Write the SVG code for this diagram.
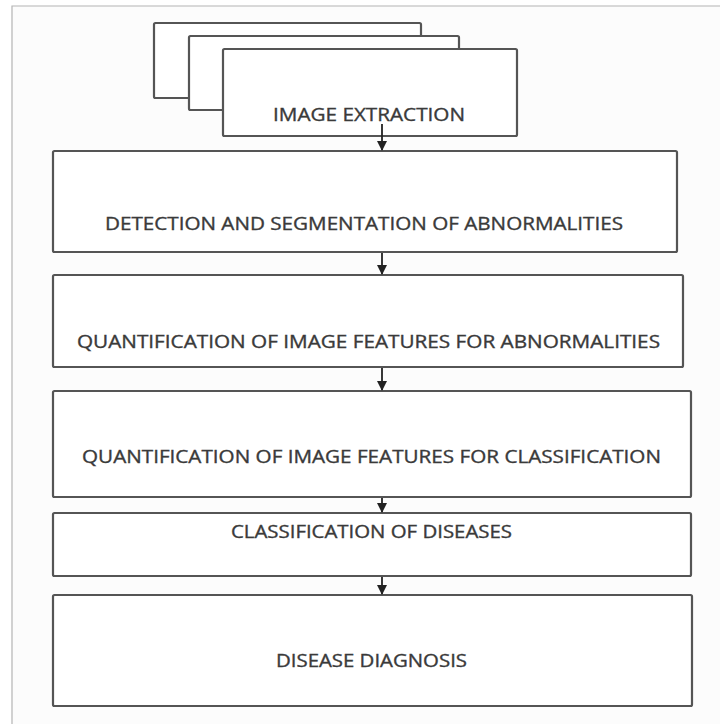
<svg xmlns="http://www.w3.org/2000/svg" width="720" height="724" viewBox="0 0 720 724">
  <style>
    .box { fill: #ffffff; stroke: #555555; stroke-width: 2.2; }
    .lbl { font-family: "Open Sans", "Liberation Sans", sans-serif; font-size: 18px; fill: #3a3a3a; stroke: #3a3a3a; stroke-width: 0.35; text-anchor: middle; }
    .conn { stroke: #222222; stroke-width: 1.8; fill: none; }
    .frame { stroke: #b4b4b4; stroke-width: 1.2; fill: none; }
  </style>
  <defs>
    <marker id="arrow" viewBox="0 0 10 10" refX="9" refY="5" markerWidth="10" markerHeight="10" markerUnits="userSpaceOnUse" orient="auto">
      <path d="M0,0 L10,5 L0,10 Z" fill="#222222"/>
    </marker>
  </defs>

  <!-- page background and frame edges -->
  <rect x="0" y="0" width="720" height="724" fill="#ffffff"/>
  <rect x="12" y="6" width="708" height="718" fill="#fcfcfc"/>
  <path class="frame" d="M12,724 V6 H720"/>

  <!-- stacked image cards -->
  <g id="image-extraction">
    <rect class="box" x="154" y="23" width="267" height="75" rx="1.5"/>
    <rect class="box" x="189" y="36" width="270" height="74" rx="1.5"/>
    <rect class="box" x="223" y="49" width="294" height="87" rx="1.5"/>
    <text class="lbl" x="369" y="121" textLength="192" lengthAdjust="spacingAndGlyphs">IMAGE EXTRACTION</text>
  </g>

  <g id="detection">
    <rect class="box" x="53" y="151" width="624" height="101" rx="1.5"/>
    <text class="lbl" x="364" y="230" textLength="518" lengthAdjust="spacingAndGlyphs">DETECTION AND SEGMENTATION OF ABNORMALITIES</text>
  </g>

  <g id="quant-abnormalities">
    <rect class="box" x="53" y="275" width="630" height="92" rx="1.5"/>
    <text class="lbl" x="368.5" y="348" textLength="583" lengthAdjust="spacingAndGlyphs">QUANTIFICATION OF IMAGE FEATURES FOR ABNORMALITIES</text>
  </g>

  <g id="quant-classification">
    <rect class="box" x="53" y="391" width="638" height="106" rx="1.5"/>
    <text class="lbl" x="371.5" y="463" textLength="579" lengthAdjust="spacingAndGlyphs">QUANTIFICATION OF IMAGE FEATURES FOR CLASSIFICATION</text>
  </g>

  <g id="classification">
    <rect class="box" x="53" y="513" width="638" height="63" rx="1.5"/>
    <text class="lbl" x="371.5" y="538" textLength="281" lengthAdjust="spacingAndGlyphs">CLASSIFICATION OF DISEASES</text>
  </g>

  <g id="diagnosis">
    <rect class="box" x="53" y="595" width="639" height="111" rx="1.5"/>
    <text class="lbl" x="371.5" y="667" textLength="191" lengthAdjust="spacingAndGlyphs">DISEASE DIAGNOSIS</text>
  </g>

  <!-- connectors -->
  <g id="connectors">
    <line class="conn" x1="382" y1="124" x2="382" y2="150" marker-end="url(#arrow)"/>
    <line class="conn" x1="382" y1="253" x2="382" y2="274" marker-end="url(#arrow)"/>
    <line class="conn" x1="382" y1="368" x2="382" y2="390" marker-end="url(#arrow)"/>
    <line class="conn" x1="382" y1="498" x2="382" y2="512" marker-end="url(#arrow)"/>
    <line class="conn" x1="382" y1="577" x2="382" y2="594" marker-end="url(#arrow)"/>
  </g>
</svg>
